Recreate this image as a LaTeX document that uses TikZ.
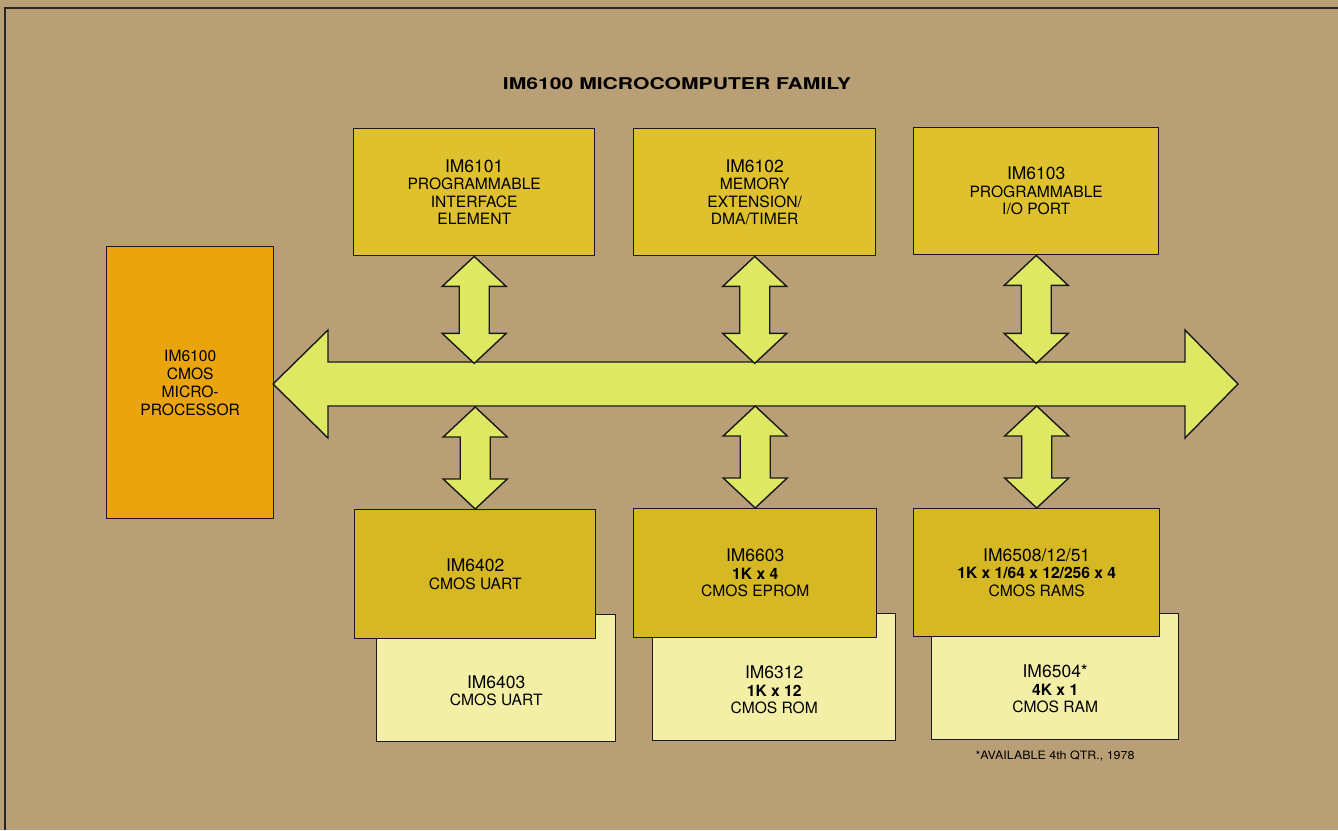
\documentclass[tikz,border=0pt]{standalone}
\usepackage{fontspec}
\setmainfont{TeX Gyre Heros}
\usetikzlibrary{calc}
\definecolor{bgtan}{RGB}{184,159,118}
\definecolor{cpuorange}{RGB}{233,164,14}
\definecolor{chiptop}{RGB}{222,193,44}
\definecolor{chipbot}{RGB}{214,184,36}
\definecolor{palechip}{RGB}{243,239,166}
\definecolor{busgreen}{RGB}{222,232,98}
\newcommand{\partfont}{\fontsize{17.5}{17.5}\selectfont}
\begin{document}
\begin{tikzpicture}[x=1pt,y=-1pt,
  chipbox/.style={draw=black!90, line width=1.4pt, inner sep=0pt, anchor=north west,
    align=center, font=\fontsize{15.6}{17.5}\selectfont},
  txt/.style={inner sep=0pt, align=center, font=\fontsize{15.6}{17.5}\selectfont},
  arrowfill/.style={fill=busgreen, draw=black!90, line width=1.4pt, line join=miter},
  pics/vdbl/.style={code={
    \draw[arrowfill] (0,0) -- (32,30) -- (15,30) -- (15,#1-30) -- (32,#1-30) -- (0,#1)
      -- (-32,#1-30) -- (-15,#1-30) -- (-15,30) -- (-32,30) -- cycle;}}
]
\fill[bgtan] (0,0) rectangle (1338,830);
\useasboundingbox (0,0) rectangle (1338,830);
\draw[black!85, line width=1.3pt] (5,830) -- (5,8) -- (1338,8);

% title
\node[inner sep=0pt, anchor=base] (title) at (677,89)
  {\resizebox{348pt}{12pt}{\bfseries IM6100 MICROCOMPUTER FAMILY}};

% CPU
\node[chipbox, fill=cpuorange, minimum width=167pt, minimum height=272pt,
  font=\fontsize{15.6}{18}\selectfont] (cpu) at (106,246)
  {IM6100\\CMOS\\MICRO-\\PROCESSOR};

% top chips
\node[chipbox, fill=chiptop, minimum width=241pt, minimum height=127pt] (t1) at (353,128)
  {{\partfont IM6101}\\PROGRAMMABLE\\INTERFACE\\ELEMENT};
\node[chipbox, fill=chiptop, minimum width=242pt, minimum height=127pt] (t2) at (633,128)
  {{\partfont IM6102}\\MEMORY\\EXTENSION/\\DMA/TIMER};
\node[chipbox, fill=chiptop, minimum width=245pt, minimum height=127pt] (t3) at (913,127)
  {{\partfont IM6103}\\PROGRAMMABLE\\I/O PORT};

% pale (second-source) chips, drawn first
\node[chipbox, fill=palechip, minimum width=239pt, minimum height=127pt] (l1) at (376,614) {};
\node[chipbox, fill=palechip, minimum width=243pt, minimum height=127pt] (l2) at (652,613) {};
\node[chipbox, fill=palechip, minimum width=247pt, minimum height=126pt] (l3) at (931,613) {};

% bottom chips
\node[chipbox, fill=chipbot, minimum width=241pt, minimum height=129pt] (b1) at (354,509)
  {{\partfont IM6402}\\CMOS UART};
\node[chipbox, fill=chipbot, minimum width=243pt, minimum height=129pt] (b2) at (633,508)
  {{\partfont IM6603}\\\textbf{1K x 4}\\CMOS EPROM};
\node[chipbox, fill=chipbot, minimum width=246pt, minimum height=128pt] (b3) at (913,508)
  {{\partfont IM6508/12/51}\\\textbf{1K x 1/64 x 12/256 x 4}\\CMOS RAMS};

% texts of the pale chips (centred in their visible part)
\node[txt] (l1t) at ($(b1.south -| l1.center)!0.5!(l1.south)$)
  {{\partfont IM6403}\\CMOS UART};
\node[txt] (l2t) at ($(b2.south -| l2.center)!0.5!(l2.south)$)
  {{\partfont IM6312}\\\textbf{1K x 12}\\CMOS ROM};
\node[txt] (l3t) at ($(b3.south -| l3.center)!0.5!(l3.south)$)
  {{\partfont IM6504*}\\\textbf{4K x 1}\\CMOS RAM};

% footnote
\node[inner sep=0pt, anchor=base] (note) at (1055,759)
  {\resizebox{159pt}{8.6pt}{*AVAILABLE 4th QTR., 1978}};

% bus
\coordinate (busW) at (273,384);
\coordinate (busE) at (1238,384);
\draw[arrowfill] (busW) -- (328,330) -- (328,362) -- (1185,362) -- (1185,330)
  -- (busE) -- (1185,438) -- (1185,406) -- (328,406) -- (328,438) -- cycle;

% vertical double arrows
\pic at (t1.south) {vdbl=107};
\pic at (t2.south) {vdbl=107};
\pic at (t3.south) {vdbl=108};
\pic at ($(b1.north)+(0,-102)$) {vdbl=102};
\pic at ($(b2.north)+(0,-102)$) {vdbl=102};
\pic at ($(b3.north)+(0,-102)$) {vdbl=102};
\end{tikzpicture}
\end{document}
